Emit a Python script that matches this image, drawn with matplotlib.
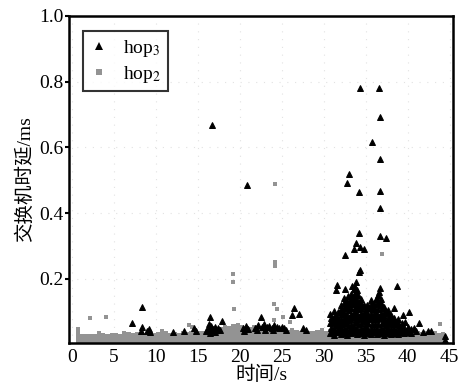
import matplotlib
matplotlib.use("Agg")
import matplotlib.pyplot as plt
from matplotlib.lines import Line2D

plt.rcParams['font.family'] = ['Liberation Serif', 'Noto Sans CJK SC']
plt.rcParams['mathtext.fontset'] = 'stix'

# --- data (time in s, delay in ms) ---
# dense hop2 samples along the bottom: top edge of the band every 0.5 s
band_t = [0.5, 1.0, 1.5, 2.0, 2.5, 3.0, 3.5, 4.0, 4.5, 5.0, 5.5, 6.0, 6.5, 7.0, 7.5,
          8.0, 8.5, 9.0, 9.5, 10.0, 10.5, 11.0, 11.5, 12.0, 12.5, 13.0, 13.5, 14.0,
          14.5, 15.0, 15.5, 16.0, 16.5, 17.0, 17.5, 18.0, 18.5, 19.0, 19.5, 20.0,
          20.5, 21.0, 21.5, 22.0, 22.5, 23.0, 23.5, 24.0, 24.5, 25.0, 25.5, 26.0,
          26.5, 27.0, 27.5, 28.0, 28.5, 29.0, 29.5, 30.0, 30.5, 31.0, 31.5, 32.0,
          32.5, 33.0, 33.5, 34.0, 34.5, 35.0, 35.5, 36.0, 36.5, 37.0, 37.5, 38.0,
          38.5, 39.0, 39.5, 40.0, 40.5, 41.0, 41.5, 42.0, 42.5, 43.0, 43.5, 44.0]
band_top = [0.055, 0.033, 0.032, 0.033, 0.032, 0.040, 0.035, 0.033, 0.034, 0.036,
            0.033, 0.042, 0.038, 0.035, 0.037, 0.034, 0.036, 0.040, 0.035, 0.038,
            0.048, 0.040, 0.036, 0.038, 0.035, 0.040, 0.037, 0.040, 0.038, 0.042,
            0.040, 0.045, 0.042, 0.050, 0.055, 0.060, 0.058, 0.062, 0.065, 0.060,
            0.058, 0.055, 0.060, 0.052, 0.058, 0.055, 0.050, 0.056, 0.052, 0.048,
            0.045, 0.050, 0.044, 0.042, 0.046, 0.040, 0.043, 0.045, 0.050, 0.042,
            0.048, 0.045, 0.044, 0.046, 0.045, 0.044, 0.046, 0.045, 0.044, 0.045,
            0.046, 0.044, 0.045, 0.046, 0.044, 0.045, 0.043, 0.045, 0.044, 0.042,
            0.045, 0.040, 0.038, 0.042, 0.036, 0.040, 0.035, 0.038]

# hop2 points that stand out from the band
hop2_t = [2.1, 4.1, 8.3, 13.9, 14.3, 19.2, 19.2, 19.3, 24.2, 24.2, 24.2, 24.1, 24.4,
          24.1, 25.2, 26.0, 37.0, 43.9]
hop2_d = [0.080, 0.083, 0.040, 0.060, 0.055, 0.216, 0.190, 0.108, 0.489, 0.250,
          0.238, 0.123, 0.108, 0.075, 0.085, 0.070, 0.275, 0.062]

# hop3 points: scattered ones first, then the dense burst around 31-40 s
hop3_pts = [
    (7.2, 0.065), (8.3, 0.114), (8.3, 0.055), (8.2, 0.042), (9.2, 0.047), (9.3, 0.038),
    (9.0, 0.040), (12.0, 0.038), (13.3, 0.040), (14.6, 0.050), (14.8, 0.040),
    (16.4, 0.083), (17.9, 0.072), (16.0, 0.042), (16.2, 0.052), (16.4, 0.045),
    (16.6, 0.058), (16.8, 0.048), (17.0, 0.055), (17.2, 0.045), (17.4, 0.052),
    (17.6, 0.044), (16.5, 0.036), (17.1, 0.038), (16.3, 0.062),
    (20.4, 0.050), (20.7, 0.058), (21.0, 0.048), (20.5, 0.042),
    (21.8, 0.052), (22.2, 0.060), (22.5, 0.085), (22.6, 0.055), (22.9, 0.062),
    (23.2, 0.055), (23.5, 0.058), (23.8, 0.050), (24.1, 0.060), (24.4, 0.055),
    (24.7, 0.050), (25.0, 0.055), (25.3, 0.050), (22.0, 0.045), (23.0, 0.045),
    (24.0, 0.045), (25.5, 0.045),
    (26.5, 0.110), (26.2, 0.090), (27.1, 0.093), (27.5, 0.050), (27.9, 0.045),
    (16.7, 0.669), (20.9, 0.485),
    (34.3, 0.780), (36.6, 0.780), (36.7, 0.693), (35.7, 0.617), (36.7, 0.565),
    (33.0, 0.519), (32.8, 0.493), (34.2, 0.464), (36.7, 0.467), (36.7, 0.415),
    (34.2, 0.341), (36.7, 0.330), (37.4, 0.325), (33.9, 0.310), (33.6, 0.290),
    (34.3, 0.298), (34.8, 0.290), (32.5, 0.272), (34.3, 0.227), (34.2, 0.220),
    (31.6, 0.182), (31.5, 0.167), (32.5, 0.169), (33.4, 0.177), (33.7, 0.175),
    (33.9, 0.190), (36.7, 0.172), (36.6, 0.161), (38.7, 0.179),
    (38.4, 0.110), (40.2, 0.100), (39.4, 0.090), (41.3, 0.067), (40.8, 0.050),
    (41.0, 0.040), (41.8, 0.037), (42.4, 0.043), (42.8, 0.040), (44.5, 0.014),
    (44.5, 0.026),
    # burst body
    (30.8, 0.035), (30.9, 0.052), (30.8, 0.066), (30.9, 0.081), (30.8, 0.092),
    (31.2, 0.030), (31.2, 0.046), (31.3, 0.060), (31.2, 0.074), (31.3, 0.090),
    (31.2, 0.101),
    (31.6, 0.038), (31.7, 0.053), (31.6, 0.068), (31.6, 0.084), (31.7, 0.098),
    (32.0, 0.032), (32.0, 0.047), (32.1, 0.063), (32.0, 0.078), (32.0, 0.093),
    (32.1, 0.108), (32.0, 0.120),
    (32.4, 0.036), (32.4, 0.050), (32.5, 0.066), (32.4, 0.080), (32.4, 0.095),
    (32.5, 0.110), (32.4, 0.126), (32.4, 0.141),
    (32.8, 0.030), (32.8, 0.045), (32.9, 0.060), (32.8, 0.074), (32.8, 0.089),
    (32.9, 0.104), (32.8, 0.118), (32.8, 0.133), (32.9, 0.148),
    (33.2, 0.034), (33.2, 0.050), (33.3, 0.064), (33.2, 0.079), (33.2, 0.094),
    (33.3, 0.110), (33.2, 0.125), (33.2, 0.140), (33.3, 0.155),
    (33.6, 0.038), (33.6, 0.053), (33.7, 0.068), (33.6, 0.083), (33.6, 0.098),
    (33.7, 0.113), (33.6, 0.128), (33.6, 0.143), (33.7, 0.158), (33.6, 0.170),
    (34.0, 0.032), (34.0, 0.047), (34.1, 0.062), (34.0, 0.077), (34.0, 0.092),
    (34.1, 0.107), (34.0, 0.122), (34.0, 0.137), (34.1, 0.152), (34.0, 0.165),
    (34.4, 0.036), (34.4, 0.051), (34.5, 0.066), (34.4, 0.081), (34.4, 0.096),
    (34.5, 0.111), (34.4, 0.126), (34.4, 0.140),
    (34.8, 0.030), (34.8, 0.045), (34.9, 0.060), (34.8, 0.075), (34.8, 0.090),
    (34.9, 0.105), (34.8, 0.120),
    (35.2, 0.035), (35.2, 0.050), (35.3, 0.065), (35.2, 0.080), (35.2, 0.095),
    (35.3, 0.110), (35.2, 0.122),
    (35.6, 0.032), (35.6, 0.047), (35.7, 0.062), (35.6, 0.077), (35.6, 0.092),
    (35.7, 0.107), (35.6, 0.122), (35.6, 0.135),
    (36.0, 0.037), (36.0, 0.052), (36.1, 0.067), (36.0, 0.082), (36.0, 0.097),
    (36.1, 0.112), (36.0, 0.128),
    (36.4, 0.033), (36.4, 0.048), (36.5, 0.063), (36.4, 0.078), (36.4, 0.093),
    (36.5, 0.108), (36.4, 0.123), (36.4, 0.138), (36.5, 0.152),
    (36.8, 0.036), (36.8, 0.050), (36.9, 0.065), (36.8, 0.080), (36.8, 0.095),
    (36.9, 0.110), (36.8, 0.125), (36.8, 0.140),
    (37.2, 0.030), (37.2, 0.045), (37.3, 0.060), (37.2, 0.075), (37.2, 0.090),
    (37.3, 0.105), (37.2, 0.116),
    (37.6, 0.035), (37.6, 0.050), (37.7, 0.065), (37.6, 0.080), (37.6, 0.095),
    (37.7, 0.105),
    (38.0, 0.032), (38.0, 0.047), (38.1, 0.062), (38.0, 0.077), (38.0, 0.090),
    (38.4, 0.036), (38.4, 0.050), (38.5, 0.065), (38.4, 0.080),
    (38.8, 0.033), (38.8, 0.048), (38.9, 0.062), (38.8, 0.078),
    (39.2, 0.037), (39.2, 0.052), (39.3, 0.066),
    (39.6, 0.034), (39.6, 0.050), (39.7, 0.068),
    (40.0, 0.038), (40.0, 0.055),
    (40.4, 0.035), (40.4, 0.048),
    # fill-in between the columns of the burst
    (31.0, 0.042), (31.0, 0.070), (31.4, 0.038), (31.4, 0.082), (31.8, 0.045),
    (31.8, 0.075), (32.2, 0.040), (32.2, 0.070), (32.2, 0.100), (32.6, 0.043),
    (32.6, 0.088), (32.6, 0.118), (33.0, 0.040), (33.0, 0.082), (33.0, 0.126),
    (33.4, 0.045), (33.4, 0.088), (33.4, 0.135), (33.8, 0.042), (33.8, 0.090),
    (33.8, 0.150), (34.2, 0.040), (34.2, 0.085), (34.2, 0.130), (34.6, 0.042),
    (34.6, 0.085), (34.6, 0.118), (35.0, 0.040), (35.0, 0.072), (35.0, 0.100),
    (35.4, 0.042), (35.4, 0.088), (35.4, 0.115), (35.8, 0.040), (35.8, 0.085),
    (35.8, 0.115), (36.2, 0.043), (36.2, 0.090), (36.2, 0.140), (36.6, 0.040),
    (36.6, 0.085), (36.6, 0.130), (37.0, 0.042), (37.0, 0.086), (37.0, 0.122),
    (37.4, 0.040), (37.4, 0.070), (37.4, 0.098), (37.8, 0.042), (37.8, 0.072),
    (38.2, 0.040), (38.2, 0.070), (38.6, 0.042), (38.6, 0.070), (39.0, 0.040),
    (39.0, 0.060), (39.4, 0.045), (39.8, 0.042), (40.2, 0.045),
]
hop3_t = [p[0] for p in hop3_pts]
hop3_d = [p[1] for p in hop3_pts]

y_ticks = [0.2, 0.4, 0.6, 0.8, 1.0]
x_ticks = [0, 5, 10, 15, 20, 25, 30, 35, 40, 45]

gray = '#939393'

fig = plt.figure(figsize=(4.59, 3.86), dpi=100)
ax = fig.add_axes([0.1503, 0.1114, 0.8366, 0.8472])

ax.bar(band_t, band_top, width=0.5, align='edge', color=gray, linewidth=0, zorder=2)
ax.plot(hop2_t, hop2_d, 's', color=gray, markersize=3.2, mew=0, zorder=3)
ax.plot(hop3_t, hop3_d, '^', color='black', markersize=3.8, mew=0.7, zorder=4)

ax.set_xlim(-0.35, 45.4)
ax.set_ylim(0.005, 1.0)
ax.set_xticks(x_ticks)
ax.set_yticks(y_ticks)
ax.set_yticklabels([f'{v:.1f}' for v in y_ticks])
ax.grid(True, color='#e2e2e2', linestyle=(0, (1, 6)), linewidth=0.8, zorder=0)

for s in ax.spines.values():
    s.set_linewidth(1.8)
ax.tick_params(axis='y', direction='out', length=3, width=1.5, labelsize=14, pad=1)
ax.tick_params(axis='x', direction='in', length=0, labelsize=14, pad=4)

ax.set_xlabel('时间/s', fontsize=14, labelpad=0)
ax.set_ylabel('交换机时延/ms', fontsize=14, labelpad=4)

handles = [Line2D([], [], marker='^', color='black', linestyle='none', markersize=6, mew=0),
           Line2D([], [], marker='s', color=gray, linestyle='none', markersize=5, mew=0)]
leg = ax.legend(handles, ['hop$_3$', 'hop$_2$'], loc='upper left',
                bbox_to_anchor=(0.036, 0.954), borderaxespad=0, fontsize=14,
                frameon=True, fancybox=False, handlelength=1.0, handletextpad=0.7,
                labelspacing=0.25, borderpad=0.35)
leg.get_frame().set_edgecolor('black')
leg.get_frame().set_linewidth(1.5)

fig.savefig('out.png', dpi=100)
